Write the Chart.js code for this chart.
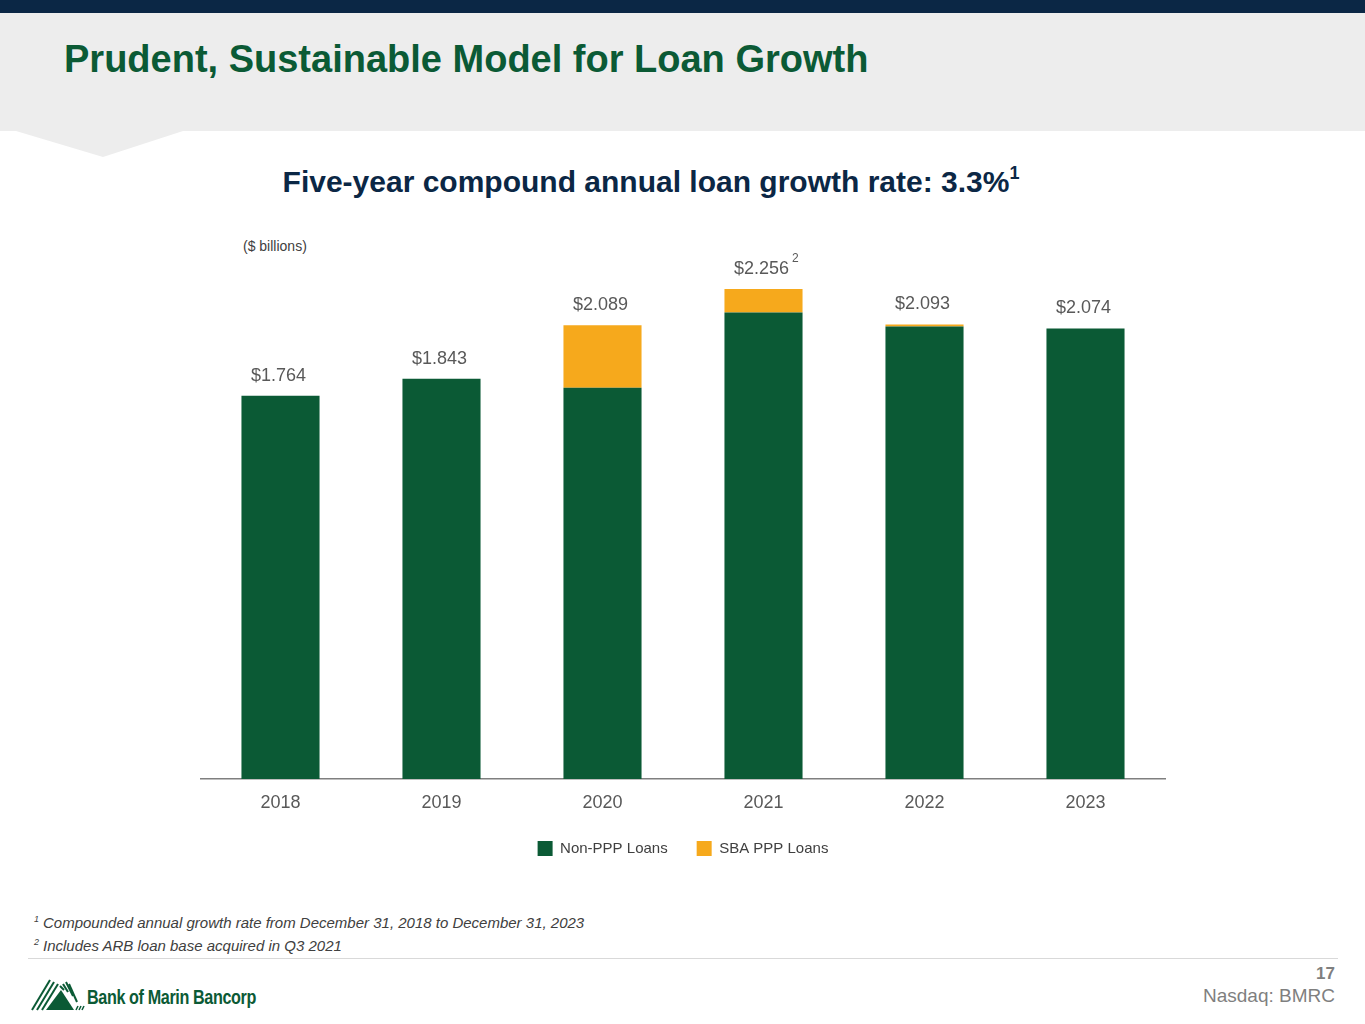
<!doctype html>
<html lang="en">
<head>
<meta charset="utf-8">
<title>Prudent, Sustainable Model for Loan Growth</title>
<script src="https://cdn.jsdelivr.net/npm/chart.js@4.4.1/dist/chart.umd.min.js"></script>
<style>
  body { margin:0; width:1365px; height:1024px; position:relative; background:#fff; font-family:"Liberation Sans", Arial, sans-serif; overflow:hidden; }
  .topbar { position:absolute; left:0; top:0; width:1365px; height:13px; background:#0b2745; }
  .band { position:absolute; left:0; top:13px; width:1365px; height:118px; background:#ededed; }
  .notch { position:absolute; left:0; top:131px; }
  h1 { position:absolute; left:64px; top:38px; margin:0; font-size:38px; font-weight:bold; color:#0b5a35; white-space:nowrap; }
  h2 { position:absolute; left:0; width:1302px; top:165px; margin:0; text-align:center; font-size:30px; font-weight:bold; color:#0b2745; white-space:nowrap; }
  h2 sup { font-size:18px; position:relative; top:-2px; }
  .units { position:absolute; left:243px; top:238px; font-size:14px; color:#404040; }
  #wrap { position:absolute; left:200px; top:236px; width:966px; height:630px; }
  .notes { position:absolute; left:34px; top:911px; font-size:15px; font-style:italic; color:#404040; line-height:23px; }
  .notes sup { font-size:9px; margin-right:4px; line-height:0; }
  .rule { position:absolute; left:28px; top:958px; width:1310px; height:1px; background:#d9d9d9; }
  .page { position:absolute; right:30px; top:963px; text-align:right; color:#7f7f7f; line-height:22px; }
  .page b { font-size:17px; display:block; }
  .page span { font-size:19px; }
  .logo { position:absolute; left:30px; top:972px; }
  .logo span { position:absolute; left:57px; top:13px; font-weight:bold; font-size:21px; color:#0b5a35; white-space:nowrap; transform:scaleX(0.77); transform-origin:0 0; letter-spacing:-0.5px; }
</style>
</head>
<body>
<div class="topbar"></div>
<div class="band"></div>
<svg class="notch" width="200" height="30"><polygon points="16,0 183,0 103,26" fill="#ededed"/></svg>
<h1>Prudent, Sustainable Model for Loan Growth</h1>
<h2>Five-year compound annual loan growth rate: 3.3%<sup>1</sup></h2>
<div class="units">($ billions)</div>
<div id="wrap"><canvas id="loans"></canvas></div>
<div class="notes">
  <div><sup>1</sup>Compounded annual growth rate from December 31, 2018 to December 31, 2023</div>
  <div><sup>2</sup>Includes ARB loan base acquired in Q3 2021</div>
</div>
<div class="rule"></div>
<div class="page"><b>17</b><span>Nasdaq: BMRC</span></div>
<div class="logo">
  <svg width="56" height="40">
    <g stroke="#0b5a35" stroke-width="2">
      <line x1="2" y1="38" x2="20" y2="8"/>
      <line x1="7" y1="38" x2="24" y2="10"/>
      <line x1="12" y1="38" x2="28" y2="12"/>
      <line x1="30" y1="14" x2="34" y2="18"/>
      <line x1="33" y1="12" x2="38" y2="20"/>
      <line x1="36" y1="10" x2="43" y2="24"/>
      <line x1="39" y1="12" x2="47" y2="30"/>
    </g>
    <polygon points="16,38 31,18 44,38" fill="#0b5a35"/>
    <g stroke="#0b5a35" stroke-width="1.5">
      <line x1="46" y1="38" x2="48" y2="34"/>
      <line x1="49" y1="38" x2="51" y2="34"/>
      <line x1="52" y1="38" x2="54" y2="34"/>
    </g>
  </svg>
  <span>Bank of Marin Bancorp</span>
</div>

<script>
// values in $ billions
const years = ['2018', '2019', '2020', '2021', '2022', '2023'];
const nonPPP = [1.764, 1.843, 1.801, 2.148, 2.083, 2.074];
const sbaPPP = [0, 0, 0.288, 0.108, 0.010, 0];
const footMarks = ['', '', '', '2', '', ''];

const green = '#0b5a35';
const orange = '#f6a91c';

// total labels on top of each stack
const totalLabels = {
  id: 'totalLabels',
  afterDatasetsDraw(chart) {
    const ctx = chart.ctx;
    const meta0 = chart.getDatasetMeta(0);
    const y = chart.scales.y;
    ctx.save();
    ctx.font = '18px "Liberation Sans", Arial, sans-serif';
    ctx.fillStyle = '#595959';
    ctx.textAlign = 'center';
    ctx.textBaseline = 'middle';
    years.forEach((yr, i) => {
      const total = nonPPP[i] + sbaPPP[i];
      const txt = '$' + total.toFixed(3);
      const x = meta0.data[i].x - 2;
      const ty = y.getPixelForValue(total) - 20;
      ctx.fillText(txt, x, ty);
      if (footMarks[i]) {
        const w = ctx.measureText(txt).width;
        ctx.save();
        ctx.font = '12px "Liberation Sans", Arial, sans-serif';
        ctx.textAlign = 'left';
        ctx.fillText(footMarks[i], x + w / 2 + 3, ty - 10);
        ctx.restore();
      }
    });
    ctx.restore();
  }
};

new Chart(document.getElementById('loans'), {
  type: 'bar',
  data: {
    labels: years,
    datasets: [
      { label: 'Non-PPP Loans', data: nonPPP, backgroundColor: green, barPercentage: 0.485, categoryPercentage: 1 },
      { label: 'SBA PPP Loans', data: sbaPPP, backgroundColor: orange, barPercentage: 0.485, categoryPercentage: 1 }
    ]
  },
  options: {
    responsive: true,
    maintainAspectRatio: false,
    animation: false,
    layout: { padding: 0 },
    plugins: {
      tooltip: { enabled: false },
      legend: {
        position: 'bottom',
        labels: {
          boxWidth: 15, boxHeight: 15, padding: 29, color: '#404040',
          font: { size: 15, family: '"Liberation Sans", Arial, sans-serif' }
        }
      }
    },
    scales: {
      x: {
        stacked: true,
        grid: { display: false },
        border: { color: '#7f7f7f', width: 1.5 },
        ticks: { color: '#595959', padding: 5, font: { size: 18, family: '"Liberation Sans", Arial, sans-serif' } },
        afterFit(scale) { scale.height = 33; }
      },
      y: {
        stacked: true,
        display: false,
        min: 0,
        max: 2.5
      }
    }
  },
  plugins: [totalLabels]
});
</script>
</body>
</html>
